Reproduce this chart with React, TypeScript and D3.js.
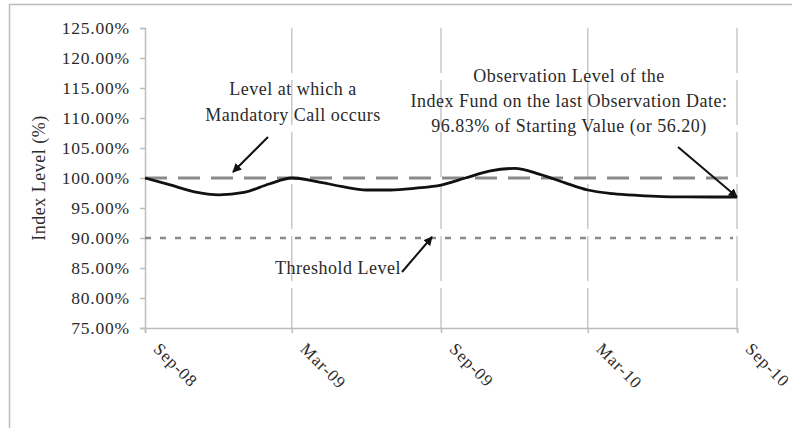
import React, { useEffect, useRef } from 'react';
import * as d3 from 'd3';

// monthly index level (% of starting value), Sep-08 .. Sep-10
const months = [
    '2008-09', '2008-10', '2008-11', '2008-12', '2009-01', '2009-02', '2009-03',
    '2009-04', '2009-05', '2009-06', '2009-07', '2009-08', '2009-09', '2009-10',
    '2009-11', '2009-12', '2010-01', '2010-02', '2010-03', '2010-04', '2010-05',
    '2010-06', '2010-07', '2010-08', '2010-09'
];
const levels = [
    100.0, 98.9, 97.7, 97.2, 97.6, 99.0, 100.0,
    99.4, 98.6, 98.0, 98.0, 98.3, 98.8, 100.0,
    101.2, 101.6, 100.6, 99.2, 98.0, 97.4, 97.1,
    96.9, 96.85, 96.83, 96.83
];
const xTickMonths = ['2008-09', '2009-03', '2009-09', '2010-03', '2010-09'];
const xTickLabels = ['Sep-08', 'Mar-09', 'Sep-09', 'Mar-10', 'Sep-10'];
const yTicks = [75, 80, 85, 90, 95, 100, 105, 110, 115, 120, 125];
const callLevel = 100;
const thresholdLevel = 90;
const callText = ['Level at which a', 'Mandatory Call occurs'];
const obsText = ['Observation Level of the', 'Index Fund on the last Observation Date:', '96.83% of Starting Value (or 56.20)'];
const thresholdText = 'Threshold Level';

const parseMonth = d3.timeParse('%Y-%m');

const App: React.FC = () => {
    const svgRef = useRef<SVGSVGElement | null>(null);

    const width = 792;
    const height = 428;

    const marginLeft = 145;
    const marginRight = 55;
    const marginTop = 28;
    const plotBottom = 328;

    useEffect(() => {
        const svg = d3.select(svgRef.current);
        svg.selectAll('*').remove();

        const font = '"Liberation Serif", "Times New Roman", serif';
        const textColor = '#2a2a2a';

        const dates = months.map(m => parseMonth(m) as Date);
        const x = d3.scaleTime()
            .domain([dates[0], dates[dates.length - 1]])
            .range([marginLeft, width - marginRight]);
        const y = d3.scaleLinear().domain([75, 125]).range([plotBottom, marginTop]);

        // outer frame
        svg.append('rect')
            .attr('x', 9.5).attr('y', 4.5)
            .attr('width', 900).attr('height', 600)
            .attr('fill', 'none')
            .attr('stroke', '#bdbdbd')
            .attr('stroke-width', 1.5);

        const defs = svg.append('defs');
        defs.append('marker')
            .attr('id', 'arrow')
            .attr('viewBox', '0 0 10 10')
            .attr('refX', 9).attr('refY', 5)
            .attr('markerWidth', 4.5).attr('markerHeight', 4.5)
            .attr('orient', 'auto')
            .append('path')
            .attr('d', 'M0,0 L10,5 L0,10 z')
            .attr('fill', '#111');

        // vertical gridlines
        const tickDates = xTickMonths.map(m => parseMonth(m) as Date);
        svg.append('g')
            .selectAll('line')
            .data(tickDates.slice(1))
            .join('line')
            .attr('x1', d => x(d)).attr('x2', d => x(d))
            .attr('y1', marginTop).attr('y2', plotBottom)
            .attr('stroke', '#c8c8c8')
            .attr('stroke-width', 1.5)
            .attr('stroke-dasharray', '45,7');

        // y axis
        svg.append('g')
            .attr('transform', `translate(${marginLeft}, 0)`)
            .call(d3.axisLeft(y).tickValues(yTicks).tickSize(5).tickPadding(10)
                .tickFormat(d => `${(+d).toFixed(2)}%`))
            .call(g => g.select('.domain').attr('stroke', '#bdbdbd').attr('stroke-width', 1.5))
            .call(g => g.selectAll('.tick line').attr('stroke', '#bdbdbd').attr('stroke-width', 1.5))
            .call(g => g.selectAll('.tick text')
                .attr('font-family', font)
                .attr('font-size', 17.5)
                .attr('letter-spacing', 0.8)
                .attr('fill', textColor));

        // x axis
        svg.append('g')
            .attr('transform', `translate(0, ${plotBottom})`)
            .call(d3.axisBottom(x).tickValues(tickDates).tickSize(5)
                .tickFormat((d, i) => xTickLabels[i]))
            .call(g => g.select('.domain').attr('stroke', '#bdbdbd').attr('stroke-width', 1.5))
            .call(g => g.selectAll('.tick line').attr('stroke', '#bdbdbd').attr('stroke-width', 1.5))
            .call(g => g.selectAll('.tick text')
                .attr('font-family', font)
                .attr('font-size', 17)
                .attr('letter-spacing', 1)
                .attr('fill', textColor)
                .attr('text-anchor', 'start')
                .attr('dy', null)
                .attr('y', 0)
                .attr('transform', 'translate(7, 22) rotate(45)'));

        // y axis title
        svg.append('text')
            .attr('transform', `translate(45, ${y(100)}) rotate(-90)`)
            .attr('text-anchor', 'middle')
            .attr('font-family', font)
            .attr('font-size', 18)
            .attr('letter-spacing', 0.5)
            .attr('fill', textColor)
            .text('Index Level (%)');

        // reference levels
        svg.append('line')
            .attr('x1', marginLeft).attr('x2', width - marginRight - 4)
            .attr('y1', y(callLevel)).attr('y2', y(callLevel))
            .attr('stroke', '#8a8a8a')
            .attr('stroke-width', 3)
            .attr('stroke-dasharray', '22,11');

        svg.append('line')
            .attr('x1', marginLeft).attr('x2', width - marginRight - 4)
            .attr('y1', y(thresholdLevel)).attr('y2', y(thresholdLevel))
            .attr('stroke', '#8a8a8a')
            .attr('stroke-width', 2.5)
            .attr('stroke-dasharray', '6,9');

        // index line
        const line = d3.line<number>()
            .x((d, i) => x(dates[i]))
            .y(d => y(d))
            .curve(d3.curveMonotoneX);

        svg.append('path')
            .datum(levels)
            .attr('fill', 'none')
            .attr('stroke', '#111')
            .attr('stroke-width', 2.8)
            .attr('d', line);

        // annotations
        const lastDate = dates[dates.length - 1];
        const lastLevel = levels[levels.length - 1];

        const addLines = (lines: string[], cx: number, cy: number, step: number) => {
            svg.append('text')
                .attr('font-family', font)
                .attr('font-size', 18)
                .attr('letter-spacing', 0.5)
                .attr('fill', textColor)
                .attr('text-anchor', 'middle')
                .selectAll('tspan')
                .data(lines)
                .join('tspan')
                .attr('x', cx)
                .attr('y', (d, i) => cy + i * step)
                .text(d => d);
        };

        addLines(callText, 293, 95, 26);
        addLines(obsText, 569, 82, 25);
        addLines([thresholdText], 338, 274, 0);

        const arrow = (x1: number, y1: number, x2: number, y2: number) => {
            svg.append('line')
                .attr('x1', x1).attr('y1', y1)
                .attr('x2', x2).attr('y2', y2)
                .attr('stroke', '#111')
                .attr('stroke-width', 2)
                .attr('marker-end', 'url(#arrow)');
        };

        arrow(268, 137, 233, y(callLevel) - 6);
        arrow(678, 147, x(lastDate), y(lastLevel));
        arrow(402, 272, 432, y(thresholdLevel) - 1);
    }, []);

    return (
        <svg
            ref={svgRef}
            width={width}
            height={height}
            viewBox={`0 0 ${width} ${height}`}
            style={{ position: 'absolute', left: 0, top: 0, background: '#fff' }}
        ></svg>
    );
};

export default App;
